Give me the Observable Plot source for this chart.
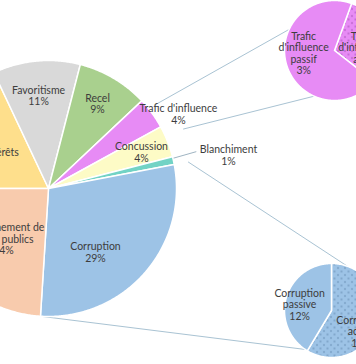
<!DOCTYPE html>
<html><head><meta charset="utf-8">
<script src="https://cdn.jsdelivr.net/npm/d3@7"></script>
<script src="https://cdn.jsdelivr.net/npm/@observablehq/plot@0.6"></script>
<style>body{margin:0;background:#fff;overflow:hidden}#chart svg{display:block}</style>
</head><body><div id="chart"></div>
<script>
// ---- data ----
const categories = ["Prise illégale d'intérêts","Favoritisme","Recel","Trafic d'influence","Concussion","Blanchiment","Corruption","Détournement de fonds publics"];
const categoryLabels = ["Prise illégale d'intérêts","Favoritisme","Recel","Trafic d'influence","Concussion","Blanchiment","Corruption","Détournement de\nfonds publics"];
const shares = [18, 11, 9, 4, 4, 1, 29, 24];
const traficParts = ["actif", "passif"];
const traficLabels = ["Trafic\nd'influence\nactif", "Trafic\nd'influence\npassif"];
const traficShares = [1.2, 2.8];
const corruptionParts = ["active", "passive"];
const corruptionLabels = ["Corruption\nactive", "Corruption\npassive"];
const corruptionShares = [17, 12];

// ---- styles / layout ----
const mainColors = ["#fedf8c","#d9d9d9","#a9d08e","#e78bf5","#fdfbc6","#72d3c5","#9dc3e6","#f8cbad"];
const traficColors = ["url(#dotsPink)", "#e78bf5"];
const corruptionColors = ["url(#dotsBlue)", "#9dc3e6"];
const MAIN = {c:[48,188], r:128, start:270};
const TOP = {c:[334,50], r:50, start:20};
const BOT = {c:[331,310], r:47, start:0};
const mainLabelPolar = [[290.3,0.675],[353.9,0.73],[30,0.766],[60.2,1.17],[68.6,0.78],[79.6,1.43],[143.7,0.62],[221.7,0.53]];
const traficLabelPolar = [[96,0.58],[264.5,0.62]];
const corrLabelPolar = [[125,0.78],[280.6,0.69]];

function polar(c, r, deg){ const a = deg*Math.PI/180; return [c[0] + r*Math.sin(a), c[1] - r*Math.cos(a)]; }
function wedges(names, values, colors, g){
  const total = d3.sum(values); let a0 = g.start; const rows = [], info = [];
  names.forEach((n,i) => {
    const span = values[i]/total*360, a1 = a0 + span;
    const key = g.start + "-" + n;
    rows.push({k:key, x:g.c[0], y:g.c[1], fill:colors[i]});
    const steps = Math.max(2, Math.ceil(span/0.5));
    for (let s = 0; s <= steps; s++){ const [x,y] = polar(g.c, g.r, a0 + span*s/steps); rows.push({k:key, x, y, fill:colors[i]}); }
    rows.push({k:key, x:g.c[0], y:g.c[1], fill:colors[i]});
    info.push({name:n, a0, a1, value:values[i]}); a0 = a1;
  });
  return {rows, info};
}
function labelRows(info, labels, polarArr, g, fmt){
  return info.map((d,i) => { const [x,y] = polar(g.c, g.r*polarArr[i][1], polarArr[i][0]); return {x, y, text: labels[i] + "\n" + fmt(d.value)}; });
}
const main = wedges(categories, shares, mainColors, MAIN);
const trafic = wedges(traficParts, traficShares, traficColors, TOP);
const corr = wedges(corruptionParts, corruptionShares, corruptionColors, BOT);
const pct = v => Math.round(v) + "%";
const labels = [
  ...labelRows(main.info, categoryLabels, mainLabelPolar, MAIN, pct),
  ...labelRows(trafic.info, traficLabels, traficLabelPolar, TOP, pct),
  ...labelRows(corr.info, corruptionLabels, corrLabelPolar, BOT, pct)
];
// connectors derived from slice geometry
const tr = main.info[3], co = main.info[6], bl = main.info[5];
const seg = (p, q) => ({x1:p[0], y1:p[1], x2:q[0], y2:q[1]});
const connectors = [
  seg(polar(MAIN.c, MAIN.r*1.05, tr.a0 + 5), polar(TOP.c, TOP.r, 295)),
  seg(polar(MAIN.c, MAIN.r*1.15, tr.a1 + 5), polar(TOP.c, TOP.r, 204)),
  seg(polar(MAIN.c, MAIN.r*1.11, co.a0), polar(BOT.c, BOT.r, 20)),
  seg(polar(MAIN.c, MAIN.r, co.a1), polar(BOT.c, BOT.r, 214))
];
const leader = [seg(polar(MAIN.c, MAIN.r*0.99, (bl.a0+bl.a1)/2 - 1), polar(MAIN.c, MAIN.r*1.19, (bl.a0+bl.a1)/2 - 1.4))];

const svg = Plot.plot({
  width: 356, height: 364, margin: 0,
  x: {domain:[0,356], range:[0,356], axis:null},
  y: {domain:[0,364], range:[0,364], axis:null},
  color: {type:"identity"},
  marks: [
    Plot.link(connectors, {x1:"x1", y1:"y1", x2:"x2", y2:"y2", stroke:"#a9c3d3", strokeWidth:1}),
    Plot.link(leader, {x1:"x1", y1:"y1", x2:"x2", y2:"y2", stroke:"#9fb4c2", strokeWidth:1}),
    Plot.line(main.rows, {x:"x", y:"y", z:"k", fill:"fill", stroke:"#fff", strokeWidth:1.5, strokeLinejoin:"round"}),
    Plot.line(trafic.rows, {x:"x", y:"y", z:"k", fill:"fill", stroke:"#fff", strokeWidth:1.5, strokeLinejoin:"round"}),
    Plot.line(corr.rows, {x:"x", y:"y", z:"k", fill:"fill", stroke:"#fff", strokeWidth:1.5, strokeLinejoin:"round"}),
    Plot.text(labels, {x:"x", y:"y", text:"text", fill:"#3d3d3d", fontSize:10.5, fontFamily:"Lato", lineHeight:1.1, textAnchor:"middle"})
  ]
});
const ns = "http://www.w3.org/2000/svg";
const defs = document.createElementNS(ns, "defs");
defs.innerHTML = `
<pattern id="dotsPink" width="7" height="7" patternUnits="userSpaceOnUse">
  <rect width="7" height="7" fill="#e78bf5"/><circle cx="1.5" cy="1.5" r="0.65" fill="#8c3a9c"/><circle cx="5" cy="5" r="0.65" fill="#8c3a9c"/>
</pattern>
<pattern id="dotsBlue" width="7" height="7" patternUnits="userSpaceOnUse">
  <rect width="7" height="7" fill="#9dc3e6"/><circle cx="1.5" cy="1.5" r="0.65" fill="#50759c"/><circle cx="5" cy="5" r="0.65" fill="#50759c"/>
</pattern>`;
svg.insertBefore(defs, svg.firstChild);
document.getElementById("chart").appendChild(svg);
</script>
</body></html>
